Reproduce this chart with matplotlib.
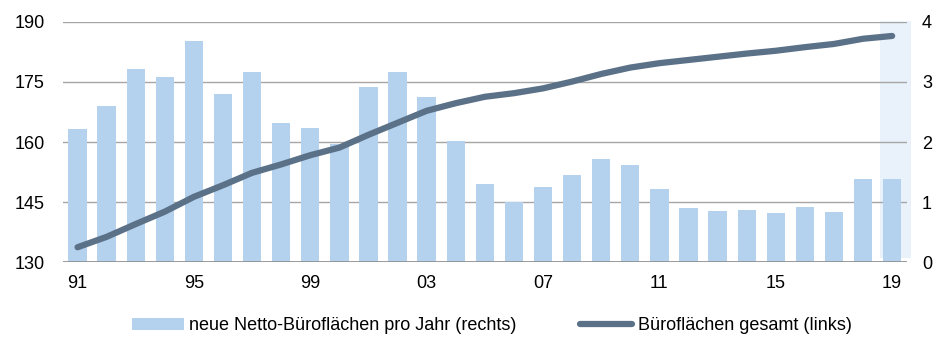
import numpy as np
import matplotlib
matplotlib.use("Agg")
from matplotlib import pyplot as plt
from matplotlib.lines import Line2D
from matplotlib.patches import Patch

# Jahre 1991-2019
years = list(range(1991, 2020))

# neue Netto-Büroflächen pro Jahr (rechte Achse)
neu = [2.22, 2.60, 3.22, 3.08, 3.68, 2.80, 3.16, 2.32, 2.24, 1.97,
       2.91, 3.17, 2.75, 2.01, 1.30, 1.00, 1.25, 1.45, 1.71, 1.62,
       1.21, 0.90, 0.85, 0.86, 0.82, 0.91, 0.84, 1.39, 1.38]

# Büroflächen gesamt (linke Achse)
gesamt = [133.7, 136.3, 139.5, 142.6, 146.3, 149.2, 152.3, 154.4, 156.7, 158.6,
          161.8, 164.8, 167.8, 169.7, 171.3, 172.2, 173.4, 175.1, 177.0, 178.6,
          179.7, 180.5, 181.3, 182.1, 182.8, 183.7, 184.5, 185.8, 186.5]

tick_years = [1991, 1995, 1999, 2003, 2007, 2011, 2015, 2019]

bar_col = "#B4D1EE"
line_col = "#5B7188"

plt.rcParams["font.family"] = ["Liberation Sans", "DejaVu Sans"]

fig = plt.figure(figsize=(9.49, 3.43), dpi=100)
ax = fig.add_axes([0.0664, 0.236, 0.889, 0.7])
x = np.arange(len(years))

# Prognosejahr hinterlegen
ax.axvspan(x[-1] - 0.4, x[-1] + 0.65, ymin=0.017, ymax=1.006,
           color="#E9F1FA", zorder=0, clip_on=False, lw=0)

ax.bar(x, neu, width=0.63, color=bar_col, zorder=2)
ax.set_ylim(0, 4)
ax.set_yticks([0, 1, 2, 3, 4])
ax.yaxis.grid(True, color="#A6A6A6", lw=1, zorder=1)
ax.set_axisbelow(True)

ax2 = ax.twinx()
ax2.plot(x, gesamt, color=line_col, lw=4.5, solid_capstyle="round", zorder=3)
ax2.set_ylim(130, 190)
ax2.set_yticks([130, 145, 160, 175, 190])
ax2.yaxis.tick_left()
ax.yaxis.tick_right()

ax.set_xlim(-0.5, len(years) - 0.5)
ax.set_xticks([years.index(t) for t in tick_years])
ax.set_xticklabels([str(t)[2:] for t in tick_years])

for a in (ax, ax2):
    for s in ("top", "left", "right", "bottom"):
        a.spines[s].set_visible(False)
    a.tick_params(axis="both", length=0, labelsize=13, colors="#000000")
ax.tick_params(axis="x", pad=9)
ax.tick_params(axis="y", pad=11)
ax2.tick_params(axis="y", pad=13)
ax.axhline(0, color="#8C8C8C", lw=1.2, zorder=4)

handles = [Patch(facecolor=bar_col, edgecolor="none"),
           Line2D([], [], color=line_col, lw=4.5, solid_capstyle="round")]
labels = ["neue Netto-Büroflächen pro Jahr (rechts)", "Büroflächen gesamt (links)"]
fig.legend(handles, labels, loc="center", bbox_to_anchor=(0.518, 0.05), ncol=2,
           frameon=False, handlelength=2.9, handleheight=0.6, handletextpad=0.3,
           columnspacing=3.5, prop={"size": 13})

fig.savefig("out.png", dpi=100)
